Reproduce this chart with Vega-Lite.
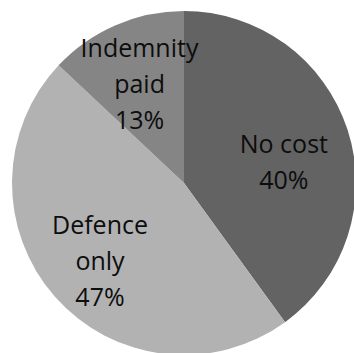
{
  "$schema": "https://vega.github.io/schema/vega-lite/v6.json",
  "width": 354,
  "height": 353,
  "autosize": {"type": "fit", "contains": "padding"},
  "padding": {"left": 14, "top": 13, "right": 0, "bottom": 0},
  "background": "white",
  "view": {"stroke": null},
  "data": {
    "values": [
      {"category": "No cost", "percent": 40, "label": "No cost\n40%", "lines": 2, "order": 1},
      {"category": "Defence only", "percent": 47, "label": "Defence\nonly\n47%", "lines": 3, "order": 2},
      {"category": "Indemnity paid", "percent": 13, "label": "Indemnity\npaid\n13%", "lines": 3, "order": 3}
    ]
  },
  "encoding": {
    "theta": {"field": "percent", "type": "quantitative", "stack": true},
    "order": {"field": "order", "type": "quantitative"}
  },
  "layer": [
    {
      "mark": {"type": "arc", "outerRadius": 172, "strokeWidth": 0},
      "encoding": {
        "color": {
          "field": "category",
          "type": "nominal",
          "scale": {
            "domain": ["No cost", "Defence only", "Indemnity paid"],
            "range": ["#636363", "#b2b2b2", "#858585"]
          },
          "legend": null
        }
      }
    },
    {
      "mark": {
        "type": "text",
        "radius": 105,
        "dy": -6,
        "font": "Open Sans",
        "fontSize": 25,
        "lineBreak": "\n",
        "lineHeight": 36,
        "align": "center",
        "baseline": "middle",
        "fill": "#0d0d0d"
      },
      "encoding": {
        "detail": {"field": "category", "type": "nominal"},
        "text": {"condition": {"test": "datum.lines == 2", "field": "label"}, "value": ""}
      }
    },
    {
      "mark": {
        "type": "text",
        "radius": 112,
        "dy": -31,
        "font": "Open Sans",
        "fontSize": 25,
        "lineBreak": "\n",
        "lineHeight": 36,
        "align": "center",
        "baseline": "middle",
        "fill": "#0d0d0d"
      },
      "encoding": {
        "detail": {"field": "category", "type": "nominal"},
        "text": {"condition": {"test": "datum.lines == 3", "field": "label"}, "value": ""}
      }
    }
  ]
}
